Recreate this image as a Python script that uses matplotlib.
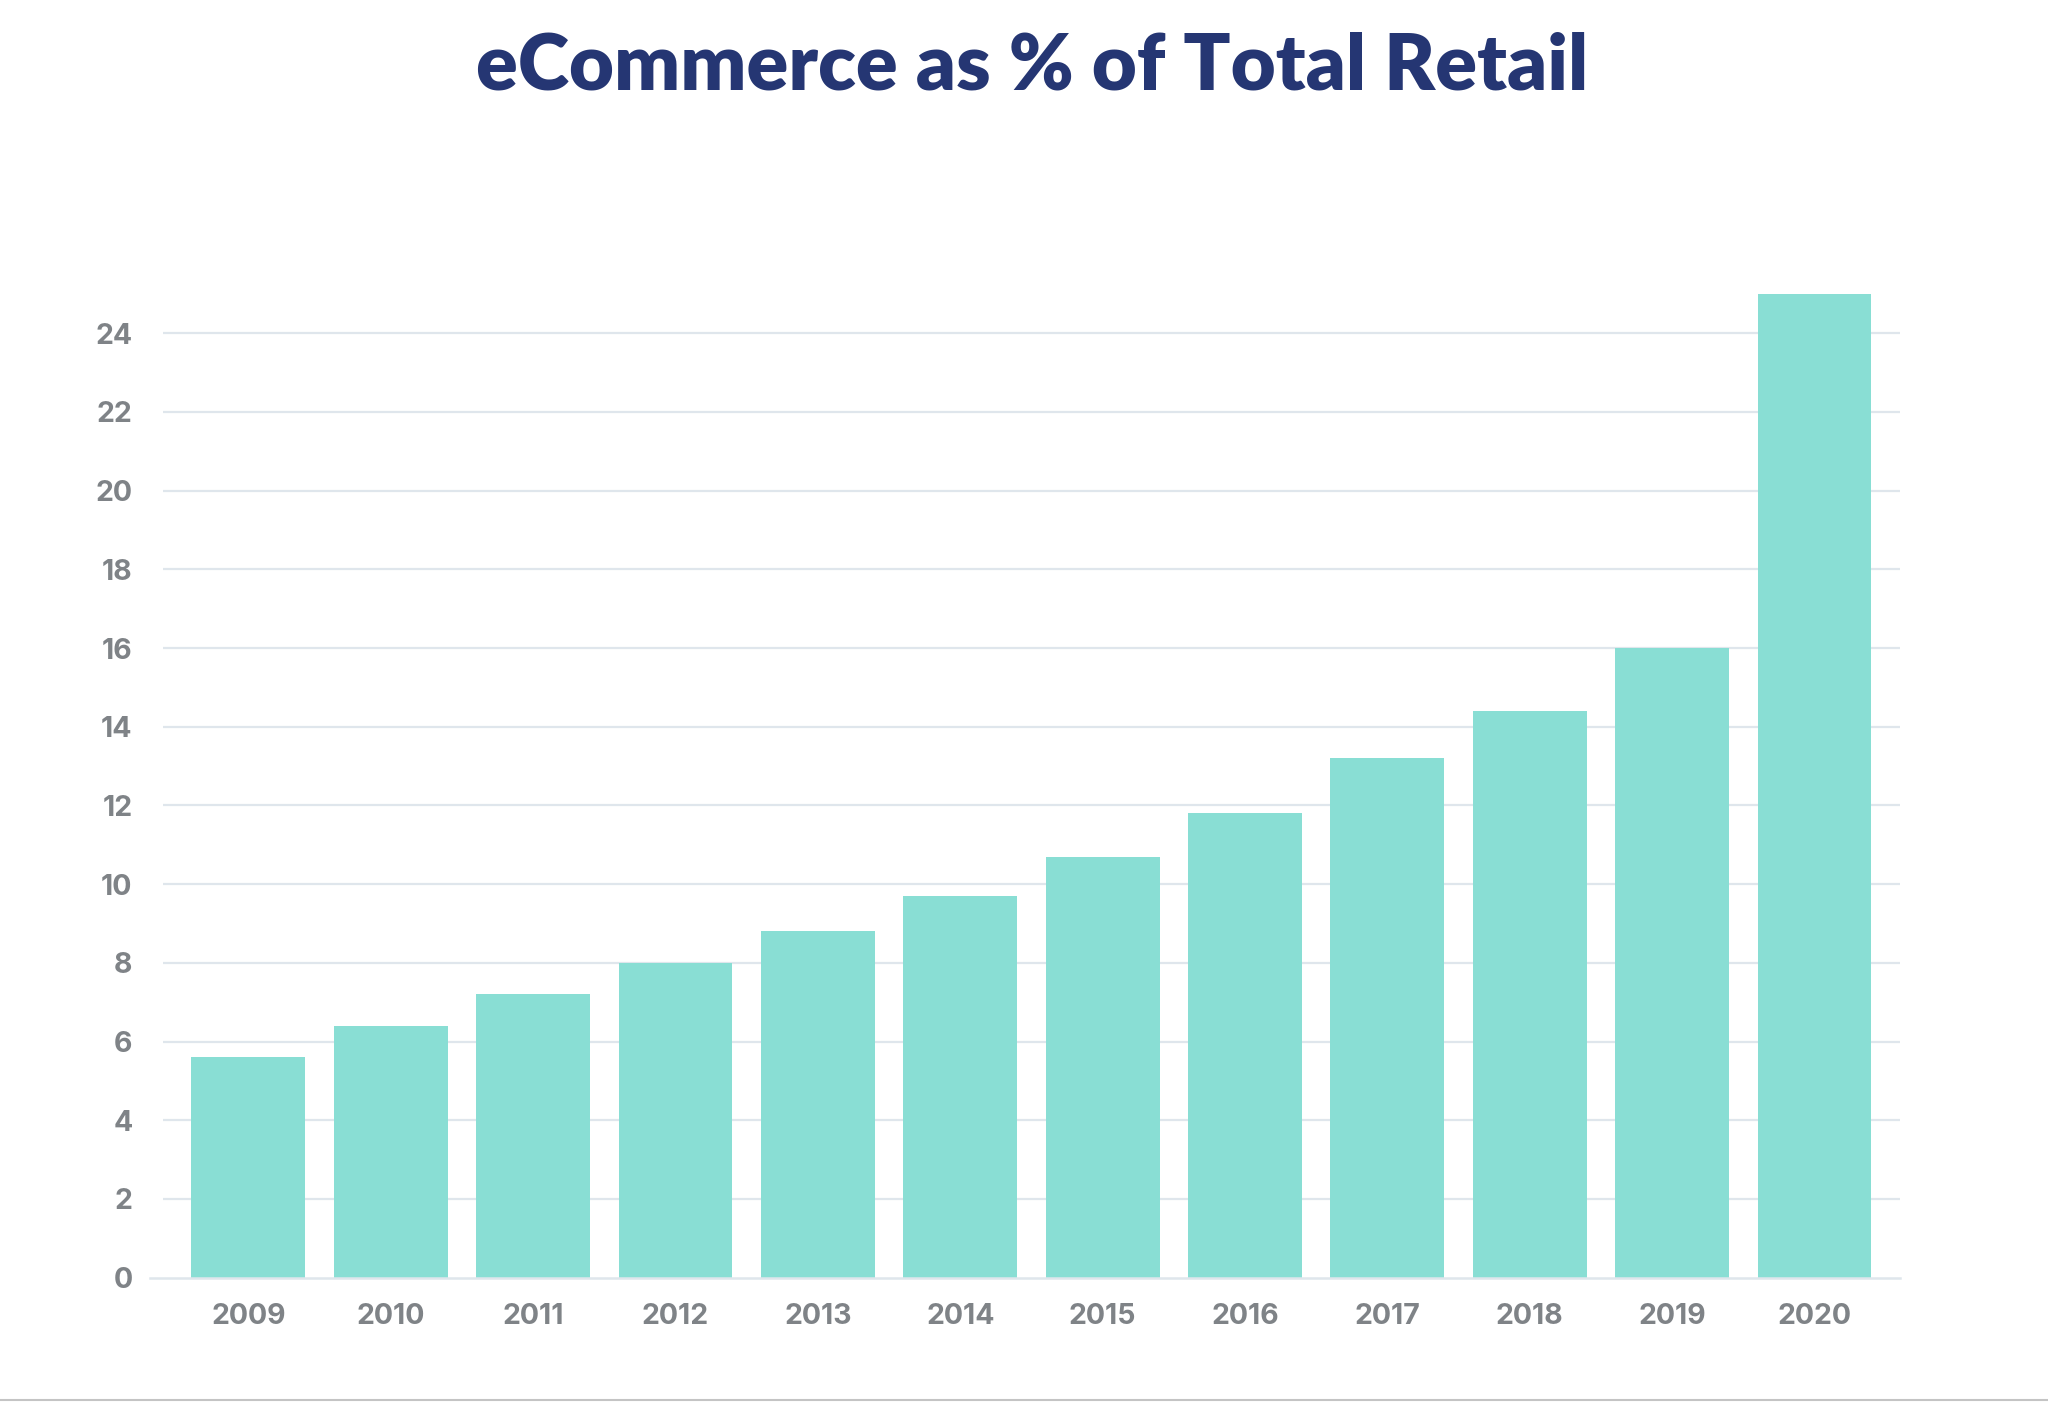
import matplotlib
matplotlib.use("Agg")
import matplotlib.pyplot as plt
from matplotlib.lines import Line2D

years = ["2009", "2010", "2011", "2012", "2013", "2014", "2015", "2016", "2017", "2018", "2019", "2020"]
share = [5.6, 6.4, 7.2, 8.0, 8.8, 9.7, 10.7, 11.8, 13.2, 14.4, 16.0, 25.0]
yticks = [0, 2, 4, 6, 8, 10, 12, 14, 16, 18, 20, 22, 24]
title = "eCommerce as % of Total Retail"

plt.rcParams['font.family'] = ['Lato', 'DejaVu Sans']

fig = plt.figure(figsize=(20.48, 14.02), dpi=100)
ax = fig.add_axes([0.0796, 0.0887, 0.8481, 0.7297])

x = list(range(len(years)))
ax.bar(x, share, width=0.8, color='#89ded4', zorder=3)

ax.set_xlim(-0.6, len(years) - 0.4)
ax.set_ylim(0, 26)
ax.set_yticks(yticks)
ax.set_yticklabels([str(t) for t in yticks])
ax.set_xticks(x)
ax.set_xticklabels(years)

for t in yticks[1:]:
    ax.axhline(t, color='#dfe6ec', linewidth=1.6, zorder=1)
ax.axhline(0, xmin=-0.0075, xmax=1, color='#dfe6ec', linewidth=1.8, zorder=4, clip_on=False)

for s in ax.spines.values():
    s.set_visible(False)
ax.tick_params(axis='both', length=0, labelsize=20.5, labelcolor='#7f8387')
ax.tick_params(axis='y', pad=22)
ax.tick_params(axis='x', pad=18)
for lab in ax.get_xticklabels() + ax.get_yticklabels():
    lab.set_fontweight('bold')
    lab.set_family(['Inter', 'DejaVu Sans'])

fig.text(0.504, 0.952, title, ha='center', va='center', fontsize=56,
         fontweight='heavy', color='#253673')

fig.add_artist(Line2D([0, 1], [0.0012, 0.0012], transform=fig.transFigure,
                      color='#c4c4c4', linewidth=1.5))

fig.savefig("out.png", dpi=100, facecolor='white')
